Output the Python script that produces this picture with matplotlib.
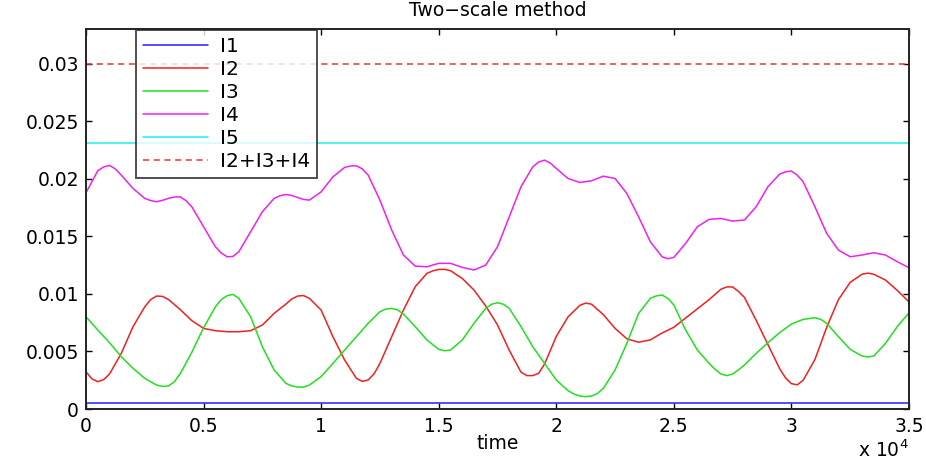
import numpy as np
import matplotlib
matplotlib.use("Agg")
import matplotlib.pyplot as plt

# ---------------- data ----------------
time = np.arange(0, 35001, 500)

I1_level = 0.0005
I5_level = 0.0231
sum_level = 0.0300

I2 = [0.00324, 0.00237, 0.00304, 0.00483, 0.00715, 0.00888, 0.00981, 0.00952,
      0.00865, 0.00767, 0.00700, 0.00680, 0.00671, 0.00671, 0.00680, 0.00729,
      0.00830, 0.00911, 0.00981, 0.00961, 0.00859, 0.00628, 0.00425, 0.00266,
      0.00252, 0.00396, 0.00628, 0.00859, 0.01062, 0.01178, 0.01212, 0.01201,
      0.01134, 0.01033, 0.00894, 0.00730, 0.00510, 0.00320, 0.00290, 0.00390,
      0.00630, 0.00800, 0.00900, 0.00910, 0.00820, 0.00700, 0.00610, 0.00580,
      0.00600, 0.00660, 0.00710, 0.00790, 0.00870, 0.00950, 0.01040, 0.01060,
      0.00970, 0.00770, 0.00560, 0.00350, 0.00220, 0.00250, 0.00430, 0.00710,
      0.00950, 0.01100, 0.01170, 0.01170, 0.01120, 0.01030, 0.00930]
# extra readings near the turning points
I2_extra_t = [250, 750, 2750, 3250, 8750, 9250, 11750, 12250, 14750, 15250,
              18750, 19250, 21250, 27250, 27750, 29750, 30250, 33250]
I2_extra = [0.00262, 0.00255, 0.00950, 0.00978, 0.00955, 0.00985, 0.00240,
            0.00305, 0.01200, 0.01213, 0.00290, 0.00310, 0.00920, 0.01060,
            0.01020, 0.00270, 0.00210, 0.01180]

I3 = [0.00801, 0.00686, 0.00576, 0.00454, 0.00353, 0.00266, 0.00208, 0.00200,
      0.00304, 0.00492, 0.00706, 0.00886, 0.00984, 0.00961, 0.00801, 0.00541,
      0.00339, 0.00223, 0.00191, 0.00208, 0.00281, 0.00396, 0.00512, 0.00628,
      0.00744, 0.00845, 0.00874, 0.00825, 0.00715, 0.00599, 0.00518, 0.00512,
      0.00599, 0.00744, 0.00874, 0.00923, 0.00874, 0.00715, 0.00541, 0.00396,
      0.00252, 0.00159, 0.00113, 0.00113, 0.00179, 0.00339, 0.00570, 0.00830,
      0.00961, 0.00990, 0.00903, 0.00686, 0.00512, 0.00396, 0.00304, 0.00304,
      0.00382, 0.00483, 0.00576, 0.00663, 0.00738, 0.00778, 0.00793, 0.00744,
      0.00628, 0.00518, 0.00460, 0.00460, 0.00570, 0.00715, 0.00836]
I3_extra_t = [3250, 3750, 5750, 6250, 8750, 9250, 12750, 13250, 15250, 17250,
              17750, 20750, 21250, 21750, 24250, 24750, 26750, 27250, 27750,
              31250, 33250]
I3_extra = [0.00196, 0.00235, 0.00950, 0.00995, 0.00200, 0.00190, 0.00868,
            0.00860, 0.00506, 0.00910, 0.00910, 0.00130, 0.00107, 0.00135,
            0.00982, 0.00960, 0.00345, 0.00290, 0.00340, 0.00778, 0.00452]

I4 = [0.01878, 0.02069, 0.02115, 0.02031, 0.01915, 0.01829, 0.01800, 0.01829,
      0.01843, 0.01756, 0.01583, 0.01409, 0.01322, 0.01366, 0.01539, 0.01713,
      0.01829, 0.01863, 0.01837, 0.01814, 0.01886, 0.02016, 0.02098, 0.02112,
      0.02031, 0.01814, 0.01554, 0.01337, 0.01241, 0.01235, 0.01265, 0.01265,
      0.01230, 0.01207, 0.01250, 0.01409, 0.01669, 0.01930, 0.02103, 0.02161,
      0.02089, 0.02002, 0.01967, 0.01982, 0.02022, 0.02002, 0.01872, 0.01669,
      0.01452, 0.01322, 0.01317, 0.01438, 0.01583, 0.01647, 0.01655, 0.01632,
      0.01641, 0.01756, 0.01930, 0.02040, 0.02066, 0.01973, 0.01756, 0.01525,
      0.01380, 0.01322, 0.01337, 0.01357, 0.01337, 0.01279, 0.01227]
I4_extra_t = [750, 1250, 2750, 3250, 3750, 4250, 5750, 6250, 8250, 8750, 9250,
              11250, 11750, 19250, 19750, 24750, 29750, 30250]
I4_extra = [0.02102, 0.02085, 0.01810, 0.01812, 0.01840, 0.01810, 0.01355,
            0.01325, 0.01852, 0.01855, 0.01820, 0.02110, 0.02085, 0.02145,
            0.02135, 0.01305, 0.02060, 0.02030]

xticks = [0, 5000, 10000, 15000, 20000, 25000, 30000, 35000]
xtick_labels = ["0", "0.5", "1", "1.5", "2", "2.5", "3", "3.5"]
yticks = [0, 0.005, 0.01, 0.015, 0.02, 0.025, 0.03]
ytick_labels = ["0", "0.005", "0.01", "0.015", "0.02", "0.025", "0.03"]
labels = ["I1", "I2", "I3", "I4", "I5", "I2+I3+I4"]


def merged(base_t, base_v, extra_t, extra_v):
    t = np.concatenate([base_t, extra_t])
    v = np.concatenate([base_v, extra_v])
    order = np.argsort(t, kind="stable")
    return t[order], v[order]


# ---------------- plot ----------------
plt.rcParams['font.family'] = ['DejaVu Sans']
fig = plt.figure(figsize=(9.26, 4.61), dpi=100)
ax = fig.add_axes([86/926, 1-409/461, (909-86)/926, (409-29)/461])

lw = 1.1
kw = dict(lw=lw, solid_joinstyle='round', solid_capstyle='round')
ax.plot(time, np.full(len(time), I1_level), color='#2020ff', label=labels[0], **kw)
t2, v2 = merged(time, I2, I2_extra_t, I2_extra)
ax.plot(t2, v2, color='#f02020', label=labels[1], **kw)
t3, v3 = merged(time, I3, I3_extra_t, I3_extra)
ax.plot(t3, v3, color='#20e020', label=labels[2], **kw)
t4, v4 = merged(time, I4, I4_extra_t, I4_extra)
ax.plot(t4, v4, color='#f020f0', label=labels[3], **kw)
ax.plot(time, np.full(len(time), I5_level), color='#20f0f0', label=labels[4], **kw)
ax.plot(time, np.full(len(time), sum_level), color='#f03030', lw=lw,
        dashes=(4.0, 3.0), label=labels[5])

ax.set_xlim(0, 35000)
ax.set_ylim(0, 0.033)
ax.set_xticks(xticks)
ax.set_xticklabels(xtick_labels)
ax.set_yticks(yticks)
ax.set_yticklabels(ytick_labels)
ax.tick_params(direction='in', length=4, width=1, top=True, right=True,
               labelsize=13.5, colors='black')
ax.tick_params(axis='x', pad=6)
ax.tick_params(axis='y', pad=5)
for s in ax.spines.values():
    s.set_linewidth(1.4)
    s.set_color('#222222')

ax.set_title("Two\u2212scale method", fontsize=13.5, pad=9)
ax.set_xlabel("time", fontsize=13.5, labelpad=-2)
ax.text(1.0, -0.08, "x 10$^{4}$", transform=ax.transAxes, ha='right', va='top',
        fontsize=13.5)

leg = ax.legend(loc='upper left', bbox_to_anchor=((135-86)/823, 1.0),
                borderaxespad=0.05, fontsize=14.5, frameon=True, fancybox=False,
                edgecolor='#222222', handlelength=3.2, handletextpad=0.6,
                labelspacing=0.2, borderpad=0.35)
leg.get_frame().set_linewidth(1.4)

fig.savefig("out.png", dpi=100)
